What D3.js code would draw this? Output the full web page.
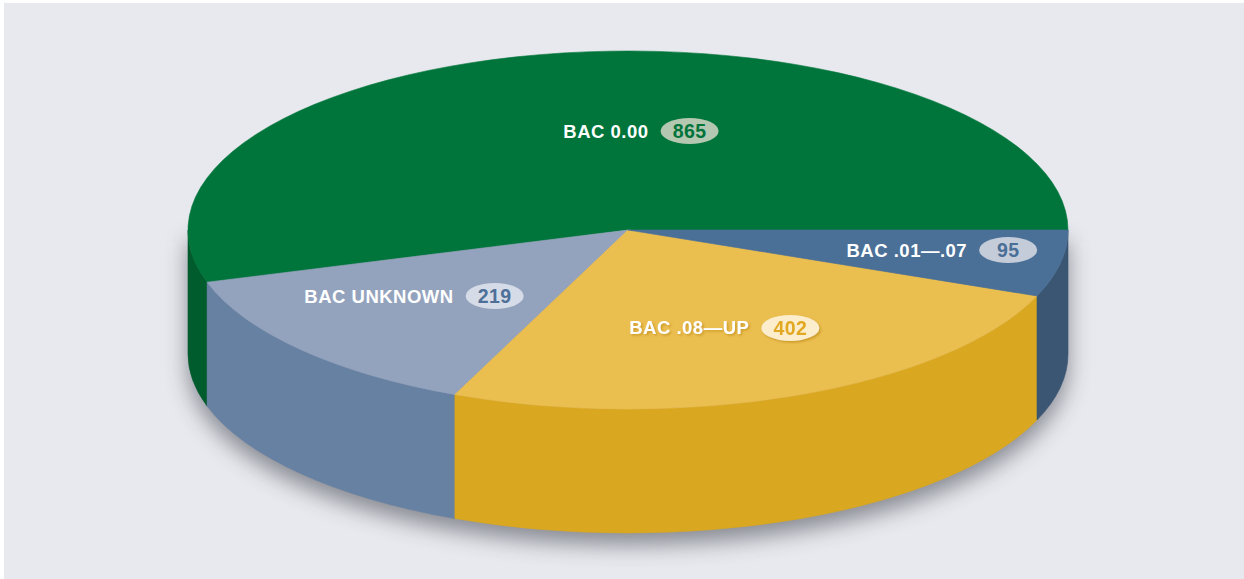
<!DOCTYPE html>
<html>
<head>
<meta charset="utf-8">
<script src="https://cdn.jsdelivr.net/npm/d3@7"></script>
<style>
  html, body { margin: 0; padding: 0; background: #ffffff; }
  svg { display: block; }
</style>
</head>
<body>
<div id="chart"></div>
<script>
// Datos del gráfico (orden antihorario desde las 3 en punto)
const categories = ["BAC 0.00", "BAC UNKNOWN", "BAC .08\u2014UP", "BAC .01\u2014.07"];
const values = [865, 219, 402, 95];

// Colores por categoría
const topColors = ["#00753b", "#94a3bd", "#ebbe50", "#4b7097"];
const sideColors = ["#005b2d", "#6781a2", "#d9a820", "#3a5673"];
const pillColors = ["#b3c7b1", "#d5dbe7", "#fcedcc", "#c4ccda"];
const numColors = ["#00733a", "#4e7098", "#e2a821", "#4a6f96"];

// Posición de las etiquetas (fracción de los radios, desde el centro)
const labelPos = [[0.140, -0.553], [-0.303, 0.369], [0.369, 0.547], [0.864, 0.112]];

const width = 1244;
const height = 579;
const cx = 628, cy = 230;   // centro de la cara superior
const rx = 440, ry = 179;   // radios de la elipse
const depth = 124;          // grosor del pastel

const svg = d3.select("#chart")
    .append("svg")
    .attr("width", width)
    .attr("height", height);

const defs = svg.append("defs");
defs.append("filter")
    .attr("id", "shadow")
    .attr("x", "-20%").attr("y", "-20%")
    .attr("width", "140%").attr("height", "160%")
    .append("feGaussianBlur")
    .attr("stdDeviation", 11);

const dropF = defs.append("filter")
    .attr("id", "drop")
    .attr("x", "-30%").attr("y", "-30%")
    .attr("width", "160%").attr("height", "160%");
dropF.append("feDropShadow")
    .attr("dx", 1.5).attr("dy", 1.5)
    .attr("stdDeviation", 1.2)
    .attr("flood-color", "#b07d00")
    .attr("flood-opacity", 0.55);

// Fondo
svg.append("rect")
    .attr("x", 4).attr("y", 3)
    .attr("width", width - 4).attr("height", height - 3)
    .attr("fill", "#e8e9ee");

// Ángulos: empezar a las 3 en punto, sentido antihorario
const pie = d3.pie()
    .sort(null)
    .startAngle(Math.PI / 2)
    .endAngle(Math.PI / 2 - 2 * Math.PI)
    .value(d => d);

const arcs = pie(values);

const pt = (a, dy = 0) => [cx + rx * Math.sin(a), cy - ry * Math.cos(a) + dy];
const f = p => `${p[0].toFixed(2)},${p[1].toFixed(2)}`;

// Sombra bajo el pastel
svg.append("path")
    .attr("d", `M${cx - rx},${cy} L${cx - rx},${cy + depth} A${rx},${ry} 0 0 0 ${cx + rx},${cy + depth} L${cx + rx},${cy} Z`)
    .attr("transform", "translate(0,12)")
    .attr("fill", "#3a3d48")
    .attr("opacity", 0.55)
    .attr("filter", "url(#shadow)");

// Caras laterales (solo la mitad frontal es visible)
const sides = svg.append("g");
arcs.forEach((d, i) => {
    const hi = Math.min(d.startAngle, -Math.PI / 2);
    const lo = Math.max(d.endAngle, -3 * Math.PI / 2);
    if (hi <= lo) return;
    const p0 = pt(hi), p1 = pt(lo);
    const q0 = pt(hi, depth), q1 = pt(lo, depth);
    sides.append("path")
        .attr("d", `M${f(p0)} A${rx},${ry} 0 0 0 ${f(p1)} L${f(q1)} A${rx},${ry} 0 0 1 ${f(q0)} Z`)
        .attr("fill", sideColors[i])
        .attr("stroke", sideColors[i])
        .attr("stroke-width", 0.6);
});

// Cara superior
const tops = svg.append("g");
arcs.forEach((d, i) => {
    const p0 = pt(d.startAngle), p1 = pt(d.endAngle);
    const large = Math.abs(d.startAngle - d.endAngle) > Math.PI ? 1 : 0;
    tops.append("path")
        .attr("d", `M${cx},${cy} L${f(p0)} A${rx},${ry} 0 ${large} 0 ${f(p1)} Z`)
        .attr("fill", topColors[i])
        .attr("stroke", topColors[i])
        .attr("stroke-width", 0.6);
});

// Etiquetas
const pillRx = 29, pillRy = 13;
const labels = svg.append("g")
    .attr("font-family", "Arial, 'Liberation Sans', Helvetica, sans-serif")
    .attr("font-weight", "bold");

arcs.forEach((d, i) => {
    const px = cx + labelPos[i][0] * rx;
    const py = cy + labelPos[i][1] * ry;
    const g = labels.append("g")
        .attr("filter", i === 2 ? "url(#drop)" : null);

    g.append("text")
        .attr("x", px - pillRx - 12)
        .attr("y", py + 6.5)
        .attr("text-anchor", "end")
        .attr("font-size", 18.5)
        .attr("letter-spacing", 0.5)
        .attr("fill", "#ffffff")
        .text(categories[i]);

    g.append("ellipse")
        .attr("cx", px).attr("cy", py)
        .attr("rx", pillRx).attr("ry", pillRy)
        .attr("fill", pillColors[i]);

    g.append("text")
        .attr("x", px)
        .attr("y", py + 7)
        .attr("text-anchor", "middle")
        .attr("font-size", 19.5)
        .attr("letter-spacing", 0.4)
        .attr("fill", numColors[i])
        .text(d.data);
});
</script>
</body>
</html>
